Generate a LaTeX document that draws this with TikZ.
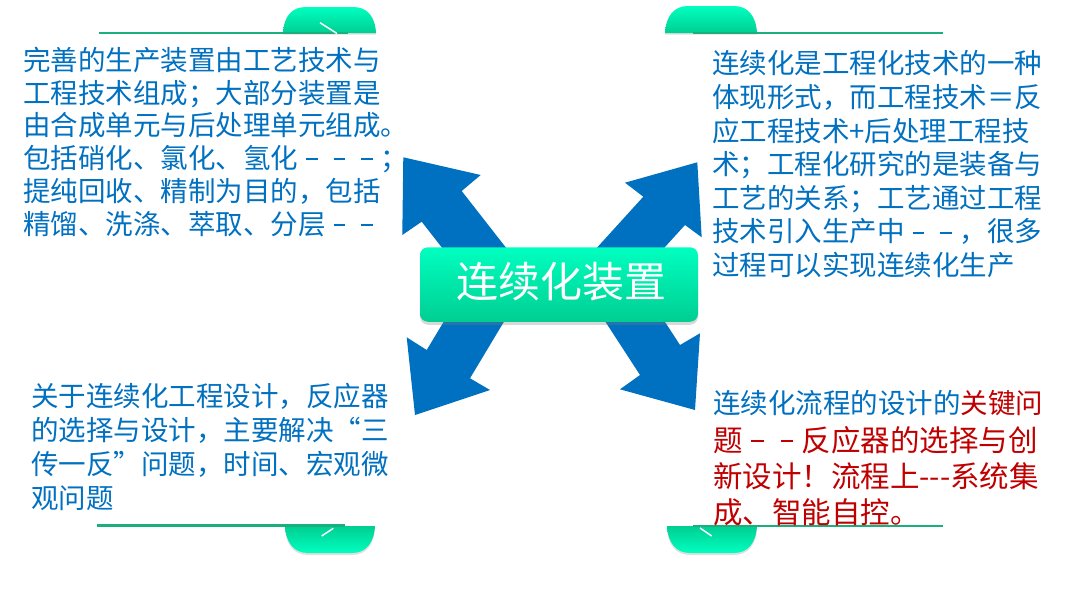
\documentclass[tikz,border=0pt]{standalone}
\usepackage{fontspec}
\newfontfamily\cjk{Noto Sans CJK SC}
\usetikzlibrary{shadows}
\definecolor{tblue}{RGB}{0,112,192}
\definecolor{tred}{RGB}{192,0,0}
\definecolor{ablue}{RGB}{0,112,192}
\definecolor{gtop}{RGB}{0,255,192}
\definecolor{gbot}{RGB}{0,206,146}
\definecolor{gline}{RGB}{26,175,125}
\newcommand{\fwdash}{\makebox[1em][c]{\rule[0.3em]{0.42em}{0.07em}}}
\begin{document}
\begin{tikzpicture}[x=1pt,y=-1pt,
  txt/.style={font=\cjk\fontsize{27.5}{33}\selectfont, text=tblue, anchor=base west, inner sep=0pt},
  redtxt/.style={txt, font=\cjk\fontsize{29.5}{36}\selectfont, text=tred},
  barrow/.style={fill=ablue, draw=none},
  hubbox/.style={rounded corners=8pt, top color=gtop, bottom color=gbot, minimum width=278pt, minimum height=74.5pt, inner sep=0pt,
    drop shadow={shadow xshift=0pt, shadow yshift=-3pt, opacity=0.3}},
  hubtext/.style={font=\cjk\fontsize{42}{48}\selectfont, text=white, inner sep=0pt},
  tabup/.style={top color=gtop, bottom color=gbot, drop shadow={shadow xshift=0pt, shadow yshift=-1.5pt, opacity=0.25}},
  tabdown/.style={top color=gbot, bottom color=gtop, drop shadow={shadow xshift=0pt, shadow yshift=-2pt, opacity=0.25}},
  rule/.style={draw=gline, line width=2.5pt},
  slash/.style={draw=white, line width=1.5pt}
]
\useasboundingbox[fill=white] (0,0) rectangle (1080,613);

% block arrows
\fill[barrow] (451.6,260) -- (421.7,221.7) -- (402.3,235) -- (403.3,157.3) -- (480.7,175) -- (461.7,191) -- (515.6,260) -- cycle;
\fill[barrow] (585.8,260) -- (643.3,196.7) -- (625,182.7) -- (697.3,162.3) -- (701.7,237.3) -- (685,225) -- (653.2,260) -- cycle;
\fill[barrow] (453.7,305) -- (426.7,350) -- (406.7,337.3) -- (415,415) -- (490,390) -- (470,378.3) -- (514,305) -- cycle;
\fill[barrow] (594.5,305) -- (640,375) -- (620,389.3) -- (695,410) -- (700,333.3) -- (680,345) -- (654,305) -- cycle;

% central box
\node[hubbox] (hub) at (559,284.5) {};
\node[hubtext] (hublabel) at (561,281.7) {连续化装置};

% tabs
\path[tabup] (283,33) .. controls (284,16) and (292,7) .. (306,7) -- (353,7) .. controls (367,7) and (375,16) .. (376,33) -- cycle;
\path[tabup] (665,33) .. controls (666,16) and (674,6) .. (688,6) -- (734,6) .. controls (748,6) and (756,16) .. (757,33) -- cycle;
\path[tabdown] (285,526) .. controls (286,543) and (294,553) .. (308,553) -- (352,553) .. controls (366,553) and (374,543) .. (375,526) -- cycle;
\path[tabdown] (667,526) .. controls (668,543) and (676,553) .. (690,553) -- (734,553) .. controls (748,553) and (756,543) .. (757,526) -- cycle;

\draw[rule] (99,33) -- (348,33);
\draw[rule] (693,33) -- (943,33);
\draw[rule] (97,525.5) -- (345,525.5);
\draw[rule] (693,526) -- (943,526);

\draw[slash] (320,22.7) -- (337,33.5);
\draw[slash] (321.7,536) -- (333.3,528.3);
\draw[slash] (700,528) -- (711.7,536);

% top-left text
\foreach \t [count=\i] in {完善的生产装置由工艺技术与,工程技术组成；大部分装置是,由合成单元与后处理单元组成。,包括硝化、氯化、氢化\fwdash\fwdash\fwdash；,提纯回收、精制为目的，包括,精馏、洗涤、萃取、分层\fwdash\fwdash}
  \node[txt] (tl\i) at (23,{70.5+32.7*(\i-1)}) {\t};

% top-right text
\foreach \t [count=\i] in {连续化是工程化技术的一种,体现形式，而工程技术＝反,应工程技术+后处理工程技,术；工程化研究的是装备与,工艺的关系；工艺通过工程,技术引入生产中\fwdash\fwdash，很多,过程可以实现连续化生产}
  \node[txt] (tr\i) at (712,{73.8+33.6*(\i-1)}) {\t};

% bottom-left text
\foreach \t [count=\i] in {关于连续化工程设计，反应器,的选择与设计，主要解决“三,传一反”问题，时间、宏观微,观问题}
  \node[txt] (bl\i) at (31,{406.5+34*(\i-1)}) {\t};

% bottom-right text
\node[txt] (br1) at (713,413.8) {连续化流程的设计的\textcolor{tred}{关键问}};
\node[redtxt] (br2) at (713,451.2) {题\fwdash\fwdash 反应器的选择与创};
\node[redtxt] (br3) at (713,487.9) {新设计！流程上---系统集};
\node[redtxt] (br4) at (713,523.7) {成、智能自控。};
\end{tikzpicture}
\end{document}
